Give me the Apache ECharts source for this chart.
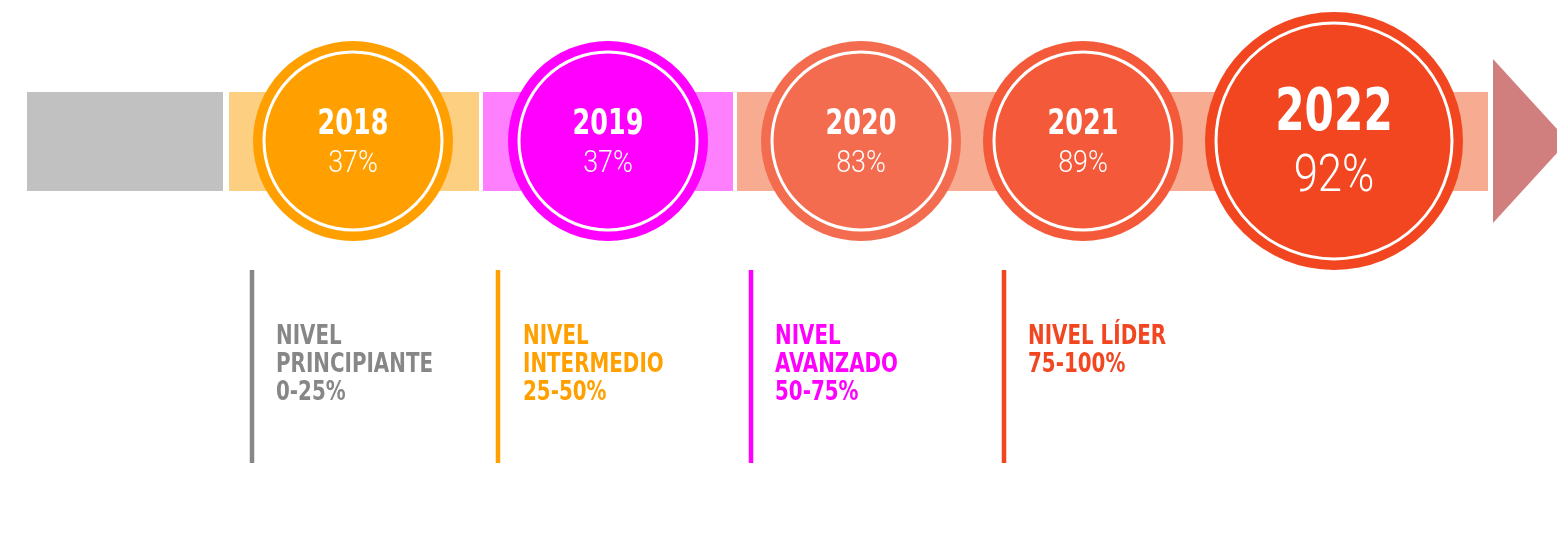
<!DOCTYPE html>
<html>
<head>
<meta charset="utf-8">
<script src="https://cdn.jsdelivr.net/npm/echarts@6/dist/echarts.min.js"></script>
<style>
  html, body { margin: 0; padding: 0; background: #fff; }
  #chart { width: 1557px; height: 533px; }
</style>
</head>
<body>
<div id="chart"></div>
<script>
// chart values
const years = ['2018', '2019', '2020', '2021', '2022'];
const percents = [37, 37, 83, 89, 92];
const levelTitles = ['NIVEL\nPRINCIPIANTE', 'NIVEL\nINTERMEDIO', 'NIVEL\nAVANZADO', 'NIVEL LÍDER'];
const levelRanges = ['0-25%', '25-50%', '50-75%', '75-100%'];

// colours
const circleColors = ['#FFA000', '#FF00FF', '#F36C4F', '#F45A3A', '#F24621'];
const bandColors = ['#C1C1C1', '#FDCF80', '#FF80FF', '#F7AC92'];
const levelColors = ['#878787', '#FFA000', '#FF00FF', '#F24621'];
const arrowColor = '#D17E7E';

// layout, in pixel units of the hidden axes
const circleX = [353, 608, 861, 1083, 1334];
const circleR = [100, 100, 100, 100, 129];
const centerY = 141;
const bandSpans = [[27, 223], [229, 479], [483, 733], [737, 1488]];
const bandTop = 92, bandBottom = 191;
const levelLineX = [252, 498, 751, 1004];
const levelTextX = [276, 523, 775, 1028];
const boldFont = "'DejaVu Sans Condensed', 'DejaVu Sans', sans-serif";
const lightFont = "Roboto, 'DejaVu Sans', sans-serif";

const chart = echarts.init(document.getElementById('chart'));

function px(api, x, y) {
  return api.coord([x, y]);
}

chart.setOption({
  animation: false,
  grid: { left: 0, right: 0, top: 0, bottom: 0 },
  xAxis: { type: 'value', min: 0, max: 1557, show: false },
  yAxis: { type: 'value', min: 0, max: 533, inverse: true, show: false },
  series: [
    {
      // timeline band segments
      type: 'custom',
      data: bandColors.map((c, i) => [i]),
      renderItem: (params, api) => {
        const i = api.value(0);
        const p0 = px(api, bandSpans[i][0], bandTop);
        const p1 = px(api, bandSpans[i][1], bandBottom);
        return {
          type: 'rect',
          shape: { x: p0[0], y: p0[1], width: p1[0] - p0[0], height: p1[1] - p0[1] },
          style: { fill: bandColors[i] }
        };
      }
    },
    {
      // arrow head
      type: 'custom',
      data: [[0]],
      renderItem: (params, api) => ({
        type: 'polygon',
        shape: { points: [px(api, 1493, 59), px(api, 1568, centerY), px(api, 1493, 223)] },
        style: { fill: arrowColor }
      })
    },
    {
      // year circles
      type: 'custom',
      data: years.map((y, i) => [circleX[i], centerY, percents[i], i]),
      renderItem: (params, api) => {
        const i = api.value(3);
        const c = api.coord([api.value(0), api.value(1)]);
        const r = circleR[i];
        const big = r > 110;
        const yearSize = big ? 58 : 35;
        const pctSize = big ? 52 : 32;
        const yearY = big ? c[1] - 26 : c[1] - 16;
        const pctY = big ? c[1] + 37 : c[1] + 23;
        return {
          type: 'group',
          children: [
            { type: 'circle', shape: { cx: c[0], cy: c[1], r: r }, style: { fill: circleColors[i] } },
            { type: 'circle', shape: { cx: c[0], cy: c[1], r: r - 11 },
              style: { fill: 'none', stroke: '#fff', lineWidth: 3 } },
            { type: 'text', x: c[0], y: yearY, scaleX: 0.81,
              style: { text: years[i], fill: '#fff', font: 'bold ' + yearSize + 'px ' + boldFont,
                       align: 'center', verticalAlign: 'middle' } },
            { type: 'text', x: c[0], y: pctY, scaleX: 0.84,
              style: { text: api.value(2) + '%', fill: '#fff', font: '300 ' + pctSize + 'px ' + lightFont,
                       align: 'center', verticalAlign: 'middle' } }
          ]
        };
      }
    },
    {
      // level markers
      type: 'custom',
      data: levelTitles.map((t, i) => [i]),
      renderItem: (params, api) => {
        const i = api.value(0);
        const top = px(api, levelLineX[i], 270);
        const bottom = px(api, levelLineX[i], 463);
        const lines = levelTitles[i].split('\n').concat([levelRanges[i]]);
        const children = [
          { type: 'line', shape: { x1: top[0], y1: top[1], x2: bottom[0], y2: bottom[1] },
            style: { stroke: levelColors[i], lineWidth: 4.5 } }
        ];
        lines.forEach((txt, k) => {
          const p = px(api, levelTextX[i], 337 + k * 28);
          children.push({
            type: 'text', x: p[0], y: p[1], scaleX: 0.85,
            style: { text: txt, fill: levelColors[i], font: 'bold 26px ' + boldFont,
                     align: 'left', verticalAlign: 'middle' }
          });
        });
        return { type: 'group', children: children };
      }
    }
  ]
});
</script>
</body>
</html>
